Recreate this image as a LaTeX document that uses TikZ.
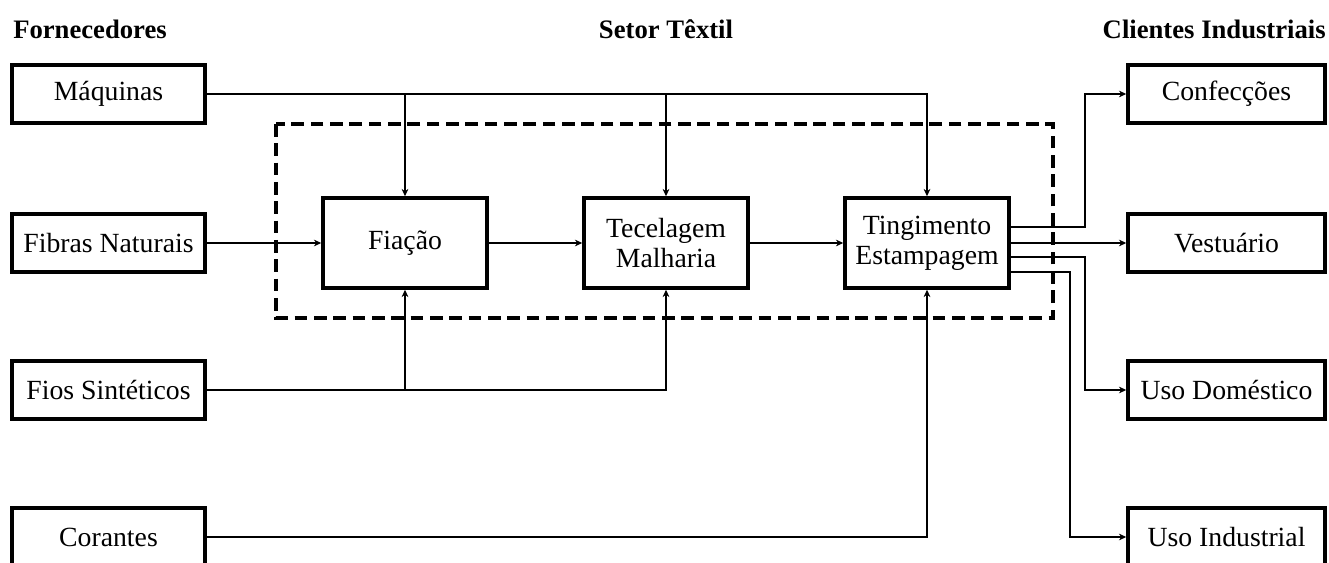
\documentclass[tikz,border=0pt]{standalone}
\usepackage{fontspec}
\setmainfont{Liberation Serif}
\usetikzlibrary{arrows.meta}
\begin{document}
\begin{tikzpicture}[x=0.75pt,y=-0.75pt,
  box/.style={draw,line width=2.6pt,inner sep=0pt,font=\fontsize{20.8}{22.5}\selectfont,align=center},
  lbox/.style={box,minimum width=144.75pt,minimum height=43.5pt},
  rbox/.style={box,minimum width=147.75pt,minimum height=43.5pt},
  mbox/.style={box,minimum width=123pt,minimum height=67.5pt},
  hdr/.style={inner sep=0pt,font=\fontsize{20}{22}\selectfont\bfseries},
  conn/.style={line width=2pt,-{Stealth[length=5.5pt,width=5pt]}},
  dbox/.style={line width=2.6pt,dash pattern=on 9.5pt off 5pt}]
\useasboundingbox (0,0) rectangle (1329,563);
\clip (0,0) rectangle (1329,563);
% headers
\node[hdr,anchor=west] (h1) at (13,29) {Fornecedores};
\node[hdr] (h2) at (666,29) {Setor Têxtil};
\node[hdr,anchor=east] (h3) at (1326,29) {Clientes Industriais};
% suppliers
\node[lbox] (maq) at (108.5,94) {Máquinas};
\node[lbox] (fib) at (108.5,243) {Fibras Naturais};
\node[lbox] (fios) at (108.5,390) {Fios Sintéticos};
\node[lbox] (cor) at (108.5,537) {Corantes};
% sector
\node[mbox] (fia) at (405,243) {Fiação};
\node[mbox] (tec) at (666,243) {Tecelagem\\Malharia};
\node[mbox] (ting) at (927,243) {Tingimento\\Estampagem};
% clients
\node[rbox] (conf) at (1226.5,94) {Confecções};
\node[rbox] (vest) at (1226.5,243) {Vestuário};
\node[rbox] (dom) at (1226.5,390) {Uso Doméstico};
\node[rbox] (ind) at (1226.5,537) {Uso Industrial};
% dashed frame
\draw[dbox] (276,124) rectangle (1053,318);
\coordinate (cx1) at (1085,0);
\coordinate (cx2) at (1070,0);
% supplier connectors
\draw[conn] (maq.east) -| (ting.north);
\draw[conn] (fia.north |- maq.east) -- (fia.north);
\draw[conn] (tec.north |- maq.east) -- (tec.north);
\draw[conn] (fib.east) -- (fia.west);
\draw[conn] (fios.east) -| (tec.south);
\draw[conn] (fia.south |- fios.east) -- (fia.south);
\draw[conn] (cor.east) -| (ting.south);
% internal
\draw[conn] (fia.east) -- (tec.west);
\draw[conn] (tec.east) -- (ting.west);
% outputs
\draw[conn] ([yshift=12pt]ting.east) -| (cx1 |- conf.west) -- (conf.west);
\draw[conn] (ting.east) -- (vest.west);
\draw[conn] ([yshift=-10.5pt]ting.east) -| (cx1 |- dom.west) -- (dom.west);
\draw[conn] ([yshift=-21.75pt]ting.east) -| (cx2 |- ind.west) -- (ind.west);
\end{tikzpicture}
\end{document}
